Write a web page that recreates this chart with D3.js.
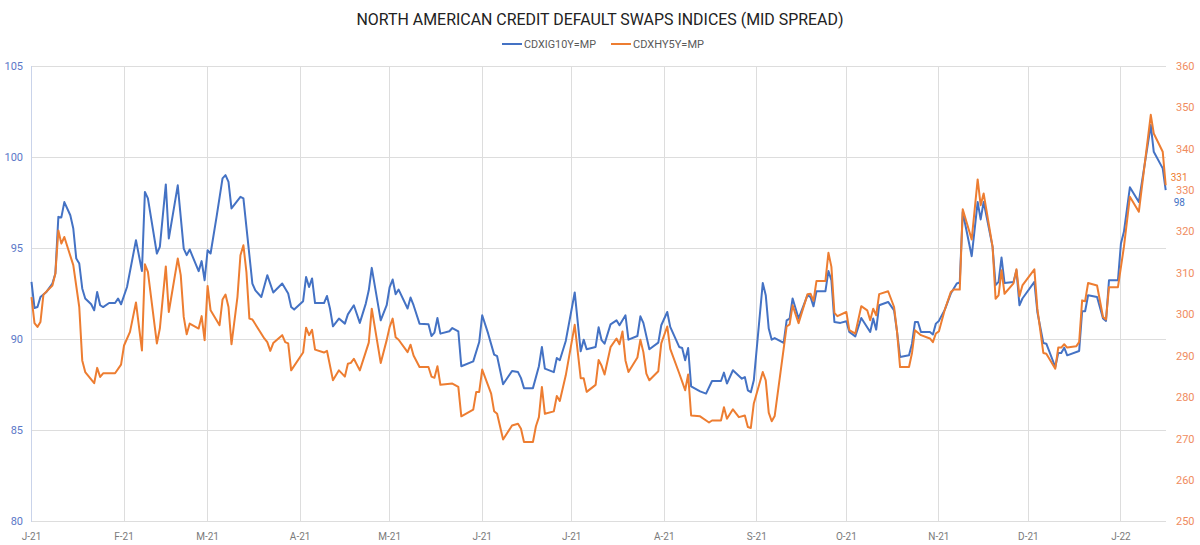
<!DOCTYPE html>
<html lang="en">
<head>
<meta charset="utf-8" />
<title>North American Credit Default Swaps Indices (Mid Spread)</title>
<style>
  body{margin:0;background:#fff;font-family:Roboto,"Open Sans",sans-serif;}
  .grid line{stroke:#dddddd;stroke-width:1;shape-rendering:crispEdges}
  .tick-left{fill:#5b78c7;font-size:11px}
  .tick-right{fill:#f08c5e;font-size:11px}
  .tick-x{fill:#7a7a7a;font-size:10px}
  .legend text{fill:#595959;font-size:11.5px}
</style>
<script src="https://cdn.jsdelivr.net/npm/d3@7.9.0/dist/d3.min.js"></script>
</head>
<body>
<svg id="chart"></svg>
<script>
/* ───────── DATA ───────── */
const title = 'NORTH AMERICAN CREDIT DEFAULT SWAPS INDICES (MID SPREAD)';
const seriesNames = ['CDXIG10Y=MP','CDXHY5Y=MP'];
const leftTicks  = [80,85,90,95,100,105];
const rightTicks = [250,260,270,280,290,300,310,320,330,340,350,360];

// CDX IG 10Y mid spread (left axis)
const igSeries = [
 ['2021-01-01',93.15],['2021-01-02',91.72],['2021-01-03',91.77],['2021-01-04',92.32],['2021-01-06',92.60],
 ['2021-01-08',93.06],['2021-01-09',93.61],['2021-01-10',96.72],['2021-01-11',96.69],['2021-01-12',97.53],
 ['2021-01-14',96.81],['2021-01-15',96.08],['2021-01-16',94.43],['2021-01-17',94.16],['2021-01-18',92.79],
 ['2021-01-19',92.24],['2021-01-21',91.92],['2021-01-22',91.59],['2021-01-23',92.60],['2021-01-24',91.87],
 ['2021-01-25',91.77],['2021-01-27',91.99],['2021-01-29',91.99],['2021-01-30',92.24],['2021-01-31',91.92],
 ['2021-02-02',92.87],['2021-02-05',95.44],['2021-02-07',93.75],['2021-02-08',98.09],['2021-02-09',97.73],
 ['2021-02-12',94.71],['2021-02-13',95.07],['2021-02-15',98.50],['2021-02-16',95.53],['2021-02-19',98.45],
 ['2021-02-21',94.98],['2021-02-22',94.62],['2021-02-23',94.93],['2021-02-26',93.74],['2021-02-27',94.29],
 ['2021-02-28',93.24],['2021-03-01',94.89],['2021-03-02',94.71],['2021-03-04',96.72],['2021-03-06',98.83],
 ['2021-03-07',99.01],['2021-03-08',98.64],['2021-03-09',97.18],['2021-03-12',97.82],['2021-03-13',97.73],
 ['2021-03-14',96.17],['2021-03-16',93.06],['2021-03-17',92.69],['2021-03-19',92.32],['2021-03-21',93.52],
 ['2021-03-23',92.57],['2021-03-26',93.06],['2021-03-28',92.51],['2021-03-29',91.77],['2021-03-30',91.63],
 ['2021-04-02',92.09],['2021-04-03',93.42],['2021-04-04',92.87],['2021-04-05',93.34],['2021-04-06',91.99],
 ['2021-04-09',91.99],['2021-04-10',92.38],['2021-04-11',91.69],['2021-04-12',90.71],['2021-04-14',91.14],
 ['2021-04-16',90.86],['2021-04-17',91.37],['2021-04-19',91.87],['2021-04-21',90.90],['2021-04-23',91.96],
 ['2021-04-24',92.69],['2021-04-25',93.92],['2021-04-28',91.04],['2021-04-30',91.87],['2021-05-01',92.87],
 ['2021-05-02',93.28],['2021-05-03',92.47],['2021-05-04',92.73],['2021-05-07',91.69],['2021-05-08',92.29],
 ['2021-05-09',91.87],['2021-05-11',90.86],['2021-05-14',90.82],['2021-05-15',90.18],['2021-05-16',90.37],
 ['2021-05-17',91.17],['2021-05-18',90.31],['2021-05-21',90.44],['2021-05-22',90.62],['2021-05-24',90.44],
 ['2021-05-25',88.52],['2021-05-29',88.79],['2021-05-31',89.85],['2021-06-01',91.32],['2021-06-03',90.31],
 ['2021-06-05',89.16],['2021-06-06',89.07],['2021-06-08',87.53],['2021-06-11',88.26],['2021-06-13',88.20],
 ['2021-06-14',87.87],['2021-06-15',87.32],['2021-06-18',87.32],['2021-06-20',88.52],['2021-06-21',89.58],
 ['2021-06-22',88.39],['2021-06-25',88.20],['2021-06-26',88.97],['2021-06-27',88.85],['2021-06-29',89.91],
 ['2021-07-02',92.57],['2021-07-04',89.34],['2021-07-05',89.98],['2021-07-06',89.45],['2021-07-09',89.58],
 ['2021-07-10',90.66],['2021-07-11',89.95],['2021-07-12',89.76],['2021-07-14',90.82],['2021-07-16',91.04],
 ['2021-07-17',90.77],['2021-07-19',91.32],['2021-07-20',89.98],['2021-07-23',90.18],['2021-07-24',91.26],
 ['2021-07-25',90.90],['2021-07-27',89.45],['2021-07-30',89.82],['2021-07-31',90.77],['2021-08-02',91.50],
 ['2021-08-03',90.68],['2021-08-06',89.58],['2021-08-07',89.52],['2021-08-08',88.85],['2021-08-09',89.52],
 ['2021-08-10',87.42],['2021-08-13',87.14],['2021-08-15',87.02],['2021-08-17',87.71],['2021-08-20',87.71],
 ['2021-08-21',88.17],['2021-08-22',87.57],['2021-08-24',88.30],['2021-08-27',87.84],['2021-08-28',87.93],
 ['2021-08-29',87.20],['2021-08-30',87.10],['2021-08-31',87.75],['2021-09-03',93.09],['2021-09-04',92.42],
 ['2021-09-05',90.59],['2021-09-06',89.98],['2021-09-07',90.07],['2021-09-10',89.80],['2021-09-11',91.04],
 ['2021-09-12',91.14],['2021-09-13',92.24],['2021-09-15',91.14],['2021-09-18',92.42],['2021-09-19',92.32],
 ['2021-09-20',91.81],['2021-09-21',92.64],['2021-09-24',92.64],['2021-09-25',93.75],['2021-09-26',93.24],
 ['2021-09-27',90.95],['2021-09-29',90.90],['2021-10-01',90.99],['2021-10-02',90.40],['2021-10-04',90.16],
 ['2021-10-06',91.17],['2021-10-09',90.40],['2021-10-10',91.14],['2021-10-11',90.53],['2021-10-12',91.87],
 ['2021-10-15',92.05],['2021-10-17',91.59],['2021-10-18',90.40],['2021-10-19',89.03],['2021-10-22',89.12],
 ['2021-10-23',89.76],['2021-10-24',90.95],['2021-10-25',90.95],['2021-10-26',90.40],['2021-10-29',90.40],
 ['2021-10-30',90.26],['2021-10-31',90.86],['2021-11-01',91.01],['2021-11-03',91.63],['2021-11-05',92.51],
 ['2021-11-07',93.06],['2021-11-08',93.12],['2021-11-09',96.99],['2021-11-12',94.56],['2021-11-14',97.54],
 ['2021-11-15',96.58],['2021-11-16',97.54],['2021-11-19',95.07],['2021-11-20',92.97],['2021-11-21',93.15],
 ['2021-11-22',94.49],['2021-11-23',93.09],['2021-11-26',93.15],['2021-11-27',93.79],['2021-11-28',91.87],
 ['2021-11-29',92.24],['2021-12-03',93.15],['2021-12-04',91.50],['2021-12-06',89.80],['2021-12-07',89.76],
 ['2021-12-10',88.48],['2021-12-11',89.25],['2021-12-12',89.25],['2021-12-13',89.54],['2021-12-14',89.12],
 ['2021-12-18',89.36],['2021-12-19',91.54],['2021-12-20',91.54],['2021-12-21',92.42],['2021-12-24',92.32],
 ['2021-12-26',91.14],['2021-12-27',91.01],['2021-12-28',93.24],['2021-12-31',93.24],['2022-01-01',95.26],
 ['2022-01-02',95.90],['2022-01-04',98.34],['2022-01-07',97.54],['2022-01-11',101.76],['2022-01-12',100.29],
 ['2022-01-15',99.38],['2022-01-16',98.19]
];

// CDX HY 5Y mid spread (right axis)
const hySeries = [
 ['2021-01-01',304.2],['2021-01-02',297.9],['2021-01-03',297.0],['2021-01-04',298.2],['2021-01-05',304.8],
 ['2021-01-08',307.0],['2021-01-09',309.9],['2021-01-10',320.3],['2021-01-11',317.1],['2021-01-12',318.7],
 ['2021-01-15',311.9],['2021-01-17',301.8],['2021-01-18',288.9],['2021-01-19',286.1],['2021-01-22',283.4],
 ['2021-01-23',287.1],['2021-01-24',284.9],['2021-01-25',285.8],['2021-01-29',285.8],['2021-01-31',287.9],
 ['2021-02-01',292.5],['2021-02-03',295.8],['2021-02-05',302.9],['2021-02-07',291.3],['2021-02-08',312.1],
 ['2021-02-09',310.3],['2021-02-12',293.0],['2021-02-13',296.6],['2021-02-15',311.6],['2021-02-16',300.6],
 ['2021-02-19',313.5],['2021-02-20',309.5],['2021-02-21',299.4],['2021-02-22',295.2],['2021-02-23',297.8],
 ['2021-02-26',296.6],['2021-02-27',299.6],['2021-02-28',293.8],['2021-03-01',306.9],['2021-03-02',301.0],
 ['2021-03-04',298.6],['2021-03-05',297.4],['2021-03-06',303.6],['2021-03-07',304.8],['2021-03-08',301.8],
 ['2021-03-09',292.8],['2021-03-11',304.2],['2021-03-12',314.3],['2021-03-13',316.7],['2021-03-14',310.3],
 ['2021-03-15',299.0],['2021-03-16',298.8],['2021-03-20',294.2],['2021-03-21',293.3],['2021-03-22',291.2],
 ['2021-03-23',293.1],['2021-03-26',295.0],['2021-03-27',293.3],['2021-03-28',293.0],['2021-03-29',286.5],
 ['2021-04-02',290.8],['2021-04-03',296.8],['2021-04-04',295.0],['2021-04-05',296.3],['2021-04-06',291.5],
 ['2021-04-09',290.8],['2021-04-10',291.2],['2021-04-12',284.1],['2021-04-14',286.5],['2021-04-16',285.0],
 ['2021-04-17',288.1],['2021-04-18',288.3],['2021-04-19',289.3],['2021-04-21',286.5],['2021-04-24',293.2],
 ['2021-04-25',301.4],['2021-04-28',288.3],['2021-04-30',293.8],['2021-05-01',297.0],['2021-05-02',299.0],
 ['2021-05-03',294.5],['2021-05-04',293.9],['2021-05-07',290.9],['2021-05-08',292.7],['2021-05-09',290.1],
 ['2021-05-11',287.3],['2021-05-14',287.3],['2021-05-15',285.0],['2021-05-16',284.7],['2021-05-17',287.5],
 ['2021-05-18',283.0],['2021-05-22',283.3],['2021-05-24',282.5],['2021-05-25',275.4],['2021-05-29',277.0],
 ['2021-05-30',281.3],['2021-05-31',281.3],['2021-06-01',286.7],['2021-06-04',280.9],['2021-06-05',276.6],
 ['2021-06-06',276.0],['2021-06-08',269.8],['2021-06-11',273.2],['2021-06-13',273.6],['2021-06-14',272.4],
 ['2021-06-15',269.2],['2021-06-18',269.2],['2021-06-19',273.0],['2021-06-20',275.2],['2021-06-21',282.5],
 ['2021-06-22',276.0],['2021-06-25',276.6],['2021-06-26',280.3],['2021-06-27',279.1],['2021-06-29',285.3],
 ['2021-07-02',297.5],['2021-07-04',284.6],['2021-07-05',284.6],['2021-07-06',281.3],['2021-07-09',283.0],
 ['2021-07-10',289.0],['2021-07-11',287.6],['2021-07-12',285.5],['2021-07-14',292.1],['2021-07-16',294.2],
 ['2021-07-17',292.8],['2021-07-18',295.9],['2021-07-19',288.9],['2021-07-20',286.1],['2021-07-23',289.6],
 ['2021-07-24',293.9],['2021-07-25',290.9],['2021-07-26',285.7],['2021-07-27',284.1],['2021-07-30',286.3],
 ['2021-07-31',293.0],['2021-08-02',297.1],['2021-08-03',291.7],['2021-08-06',285.8],['2021-08-07',283.8],
 ['2021-08-08',281.7],['2021-08-09',285.5],['2021-08-10',275.6],['2021-08-13',275.4],['2021-08-16',273.9],
 ['2021-08-17',274.4],['2021-08-20',274.4],['2021-08-21',277.6],['2021-08-22',274.8],['2021-08-24',277.1],
 ['2021-08-26',275.2],['2021-08-28',275.6],['2021-08-29',272.8],['2021-08-30',272.6],['2021-08-31',278.5],
 ['2021-09-03',286.1],['2021-09-04',284.1],['2021-09-05',276.3],['2021-09-06',274.2],['2021-09-07',275.5],
 ['2021-09-11',297.1],['2021-09-12',297.6],['2021-09-13',302.2],['2021-09-15',297.9],['2021-09-18',304.9],
 ['2021-09-19',305.0],['2021-09-20',303.3],['2021-09-21',308.1],['2021-09-24',308.1],['2021-09-25',314.9],
 ['2021-09-26',311.5],['2021-09-27',300.4],['2021-09-28',299.6],['2021-10-01',300.6],['2021-10-02',296.2],
 ['2021-10-04',295.4],['2021-10-06',302.0],['2021-10-08',301.0],['2021-10-09',298.6],['2021-10-10',301.4],
 ['2021-10-11',299.8],['2021-10-12',304.9],['2021-10-15',305.6],['2021-10-17',301.8],['2021-10-18',295.8],
 ['2021-10-19',287.3],['2021-10-22',287.3],['2021-10-23',290.7],['2021-10-24',296.2],['2021-10-26',295.0],
 ['2021-10-29',294.2],['2021-10-30',293.3],['2021-10-31',295.4],['2021-11-01',295.9],['2021-11-03',301.2],
 ['2021-11-05',305.4],['2021-11-06',306.0],['2021-11-08',306.0],['2021-11-09',325.4],['2021-11-12',318.1],
 ['2021-11-14',332.6],['2021-11-15',326.4],['2021-11-16',329.2],['2021-11-19',316.3],['2021-11-20',303.8],
 ['2021-11-21',304.6],['2021-11-22',310.7],['2021-11-23',305.0],['2021-11-26',307.5],['2021-11-27',310.9],
 ['2021-11-28',304.4],['2021-11-29',307.0],['2021-12-03',310.9],['2021-12-04',301.4],['2021-12-06',290.7],
 ['2021-12-07',290.5],['2021-12-10',286.9],['2021-12-11',292.0],['2021-12-12',292.0],['2021-12-13',292.8],
 ['2021-12-14',292.0],['2021-12-17',292.3],['2021-12-18',293.3],['2021-12-19',303.4],['2021-12-20',303.2],
 ['2021-12-21',307.6],['2021-12-24',307.0],['2021-12-26',299.4],['2021-12-27',298.8],['2021-12-28',306.6],
 ['2021-12-31',306.6],['2022-01-02',316.3],['2022-01-04',328.4],['2022-01-07',324.8],['2022-01-11',348.2],
 ['2022-01-12',343.7],['2022-01-15',339.3],['2022-01-16',331.2]
];

/* ───────── CONFIG ───────── */
const W = 1200, H = 545;
const M = {top:66, right:34.3, bottom:23.5, left:31.5};
const BLUE = '#4472c4', ORANGE = '#ed7d31';

const parse = d3.utcParse('%Y-%m-%d');
const ig = igSeries.map(([d,v]) => ({date:parse(d), v}));
const hy = hySeries.map(([d,v]) => ({date:parse(d), v}));

const svg = d3.select('#chart').attr('width',W).attr('height',H);

const x  = d3.scaleUtc([ig[0].date, ig[ig.length-1].date], [M.left, W-M.right]);
const yL = d3.scaleLinear([80,105],  [H-M.bottom, M.top]);
const yR = d3.scaleLinear([250,360], [H-M.bottom, M.top]);

/* grid */
const months = d3.utcMonth.range(x.domain()[0], d3.utcDay.offset(x.domain()[1],1));
const grid = svg.append('g').attr('class','grid');
grid.selectAll('.h').data(leftTicks).join('line')
    .attr('x1',M.left).attr('x2',W-M.right)
    .attr('y1',d=>yL(d)).attr('y2',d=>yL(d));
grid.selectAll('.v').data(months.slice(1)).join('line')
    .attr('x1',d=>x(d)).attr('x2',d=>x(d))
    .attr('y1',M.top).attr('y2',H-M.bottom);
svg.append('line')
    .attr('x1',M.left).attr('x2',M.left).attr('y1',M.top).attr('y2',H-M.bottom)
    .attr('stroke','#c9d3ea').attr('stroke-width',1).attr('shape-rendering','crispEdges');

/* axes labels */
svg.append('g').selectAll('text').data(leftTicks).join('text')
   .attr('class','tick-left').attr('x',23).attr('y',d=>yL(d)).attr('dy','0.35em')
   .attr('text-anchor','end').text(d=>d);
svg.append('g').selectAll('text').data(rightTicks).join('text')
   .attr('class','tick-right').attr('x',1176).attr('y',d=>yR(d)).attr('dy','0.35em')
   .text(d=>d);
const fmtMonth = d => d3.utcFormat('%b')(d)[0] + '-' + d3.utcFormat('%y')(d);
svg.append('g').selectAll('text').data(months).join('text')
   .attr('class','tick-x').attr('x',d=>x(d)).attr('y',H-M.bottom+18)
   .attr('text-anchor','middle').text(fmtMonth);

/* lines */
const lineL = d3.line().x(d=>x(d.date)).y(d=>yL(d.v));
const lineR = d3.line().x(d=>x(d.date)).y(d=>yR(d.v));
svg.append('path').datum(ig).attr('d',lineL)
   .attr('fill','none').attr('stroke',BLUE).attr('stroke-width',2).attr('stroke-linejoin','round');
svg.append('path').datum(hy).attr('d',lineR)
   .attr('fill','none').attr('stroke',ORANGE).attr('stroke-width',2).attr('stroke-linejoin','round');

/* end-of-series value labels, kept clear of the 330 tick */
const lastIg = ig[ig.length-1], lastHy = hy[hy.length-1];
svg.append('text').attr('x',x(lastHy.date)+5).attr('y',yR(lastHy.v)-8).attr('dy','0.35em')
   .attr('fill',ORANGE).attr('font-size',10).text(d3.format('.0f')(lastHy.v));
svg.append('text').attr('x',x(lastIg.date)+8).attr('y',yL(lastIg.v)+12).attr('dy','0.35em')
   .attr('fill',BLUE).attr('font-size',10).text(d3.format('.0f')(lastIg.v));

/* title */
svg.append('text').attr('x',W/2).attr('y',25).attr('text-anchor','middle')
   .attr('fill','#222').attr('font-size',16.5)
   .attr('textLength',487).attr('lengthAdjust','spacingAndGlyphs')
   .text(title);

/* legend */
const legend = svg.append('g').attr('class','legend');
const legendItems = [
  {name:seriesNames[0], color:BLUE,   x:502, w:72},
  {name:seriesNames[1], color:ORANGE, x:611, w:71}
];
legendItems.forEach(it=>{
  legend.append('line').attr('x1',it.x).attr('x2',it.x+20).attr('y1',44).attr('y2',44)
        .attr('stroke',it.color).attr('stroke-width',2);
  legend.append('text').attr('x',it.x+22).attr('y',48)
        .attr('textLength',it.w).attr('lengthAdjust','spacingAndGlyphs').text(it.name);
});
</script>
</body>
</html>
